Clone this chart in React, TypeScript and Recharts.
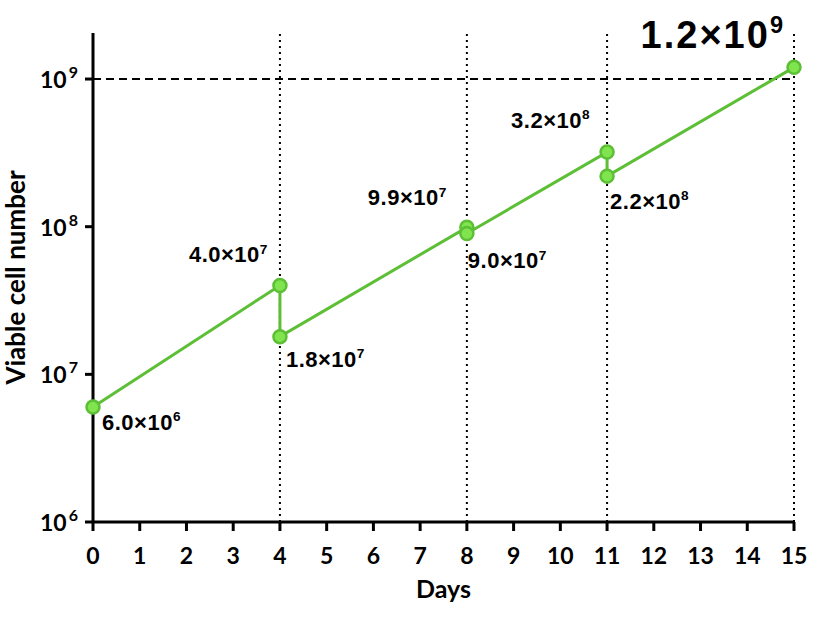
import { LineChart, Line, XAxis, YAxis, ReferenceLine, LabelList } from 'recharts'

// Viable cell counts over the culture (split days have two readings)
const days = [0, 4, 4, 8, 8, 11, 11, 15]
const cells = [6.0e6, 4.0e7, 1.8e7, 9.9e7, 9.0e7, 3.2e8, 2.2e8, 1.2e9]
const mantissas = ['6.0', '4.0', '1.8', '9.9', '9.0', '3.2', '2.2', '1.2']
const exponents = [6, 7, 7, 7, 7, 8, 8, 9]

const dayTicks = [0, 1, 2, 3, 4, 5, 6, 7, 8, 9, 10, 11, 12, 13, 14, 15]
const cellTicks = [1e6, 1e7, 1e8, 1e9]
const splitDays = [4, 8, 11, 15]
const targetLine = 1e9

const data = days.map((d, i) => ({ day: d, cells: cells[i], i }))

// where each value label sits relative to its point
const labelPlace = [
  { anchor: 'start', dx: 9, dy: 23, big: false },
  { anchor: 'end', dx: -12, dy: -23, big: false },
  { anchor: 'start', dx: 6, dy: 30, big: false },
  { anchor: 'end', dx: -20, dy: -22, big: false },
  { anchor: 'start', dx: 1, dy: 35, big: false },
  { anchor: 'end', dx: -17, dy: -24, big: false },
  { anchor: 'start', dx: 3, dy: 33, big: false },
  { anchor: 'end', dx: -9, dy: -19, big: true },
]

const GREEN = '#5cbf35'
const FILL = '#7fe44e'
const TICK_FONT = 'Lato, "Open Sans", sans-serif'
const LABEL_FONT = '"Liberation Sans", Arial, sans-serif'

const PowerTick = (props: any) => {
  const { x, y, payload } = props
  const exp = Math.round(Math.log10(payload.value))
  return (
    <text x={x - 5} y={y + 9} textAnchor="end" fontFamily={TICK_FONT} fontWeight="bold" fontSize={23} fill="#000">
      <tspan>10</tspan>
      <tspan dx={2} dy={-10} fontSize={16}>{exp}</tspan>
    </text>
  )
}

const DayTick = (props: any) => {
  const { x, y, payload } = props
  return (
    <text x={x} y={y + 31} textAnchor="middle" fontFamily={TICK_FONT} fontWeight="bold" fontSize={23} fill="#000">
      {payload.value}
    </text>
  )
}

const CellsTitle = (props: any) => {
  const { viewBox } = props
  const cy = viewBox.y + viewBox.height / 2
  return (
    <text
      x={25}
      y={cy}
      transform={`rotate(-90, 25, ${cy})`}
      textAnchor="middle"
      fontFamily={TICK_FONT}
      fontWeight="bold"
      fontSize={26}
      fill="#000"
    >
      Viable cell number
    </text>
  )
}

const ValueLabel = (props: any) => {
  const { x, y, index } = props
  const p = labelPlace[index]
  const size = p.big ? 38 : 22
  return (
    <text
      x={x + p.dx}
      y={y + p.dy}
      textAnchor={p.anchor}
      fontFamily={LABEL_FONT}
      fontWeight="bold"
      fontSize={size}
      letterSpacing={p.big ? 2 : 0.5}
      fill="#000"
    >
      <tspan>{mantissas[index]}×10</tspan>
      <tspan dy={-size * 0.4} fontSize={size * 0.62}>{exponents[index]}</tspan>
    </text>
  )
}

export default function App() {
  return (
    <div style={{ position: 'absolute', left: 0, top: 0, background: '#fff' }}>
      <LineChart width={826} height={622} data={data} margin={{ top: 33, right: 32, left: 23, bottom: 40 }}>
        <XAxis
          dataKey="day"
          type="number"
          domain={[0, 15]}
          ticks={dayTicks}
          interval={0}
          stroke="#000"
          strokeWidth={3}
          tickSize={9}
          tick={<DayTick />}
          height={60}
          label={{
            value: 'Days',
            position: 'insideBottom',
            offset: 0,
            dy: 16,
            style: { fontFamily: TICK_FONT, fontWeight: 'bold', fontSize: 25, fill: '#000' },
          }}
        />
        <YAxis
          dataKey="cells"
          scale="log"
          domain={[1e6, 2.05e9]}
          allowDataOverflow
          ticks={cellTicks}
          interval={0}
          stroke="#000"
          strokeWidth={3}
          tickSize={8}
          tick={<PowerTick />}
          width={70}
          label={<CellsTitle />}
        />
        {splitDays.map((d) => (
          <ReferenceLine key={d} x={d} stroke="#000" strokeWidth={2} strokeDasharray="2 4" />
        ))}
        <ReferenceLine y={targetLine} stroke="#000" strokeWidth={2} strokeDasharray="8 5" />
        <Line
          dataKey="cells"
          type="linear"
          stroke={GREEN}
          strokeWidth={3}
          dot={{ r: 6.5, fill: FILL, stroke: GREEN, strokeWidth: 2.5 }}
          isAnimationActive={false}
        >
          <LabelList dataKey="cells" content={<ValueLabel />} />
        </Line>
      </LineChart>
    </div>
  )
}
